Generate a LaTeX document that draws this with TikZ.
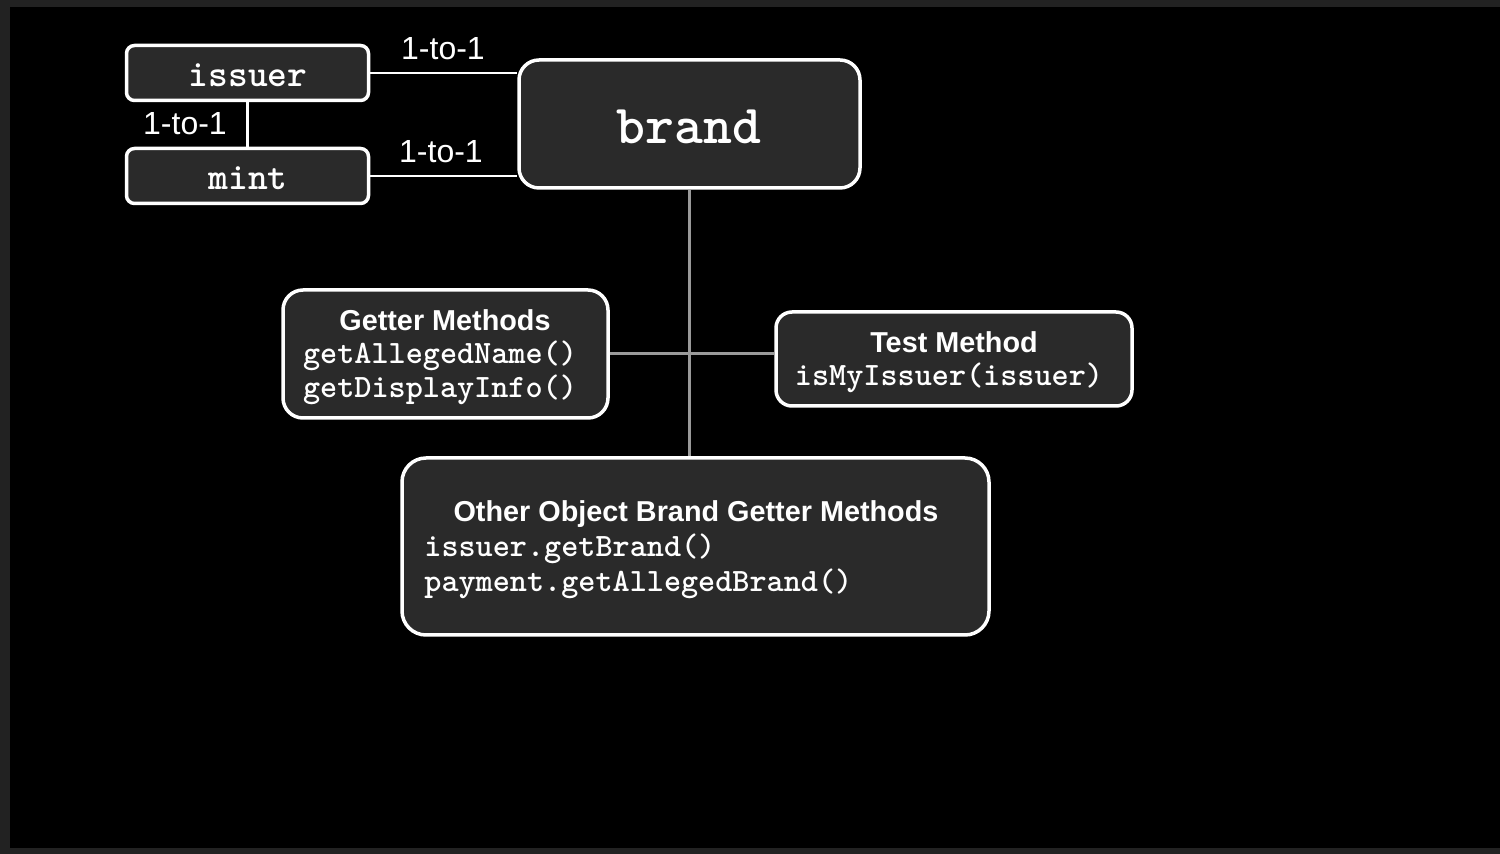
\documentclass[tikz,border=0pt]{standalone}
\usepackage{fontspec}
\setmainfont{Liberation Sans}
\definecolor{frame}{HTML}{222222}
\definecolor{boxfill}{HTML}{2A2A2A}
\definecolor{link}{HTML}{9A9A9A}
\begin{document}
\begin{tikzpicture}[x=0.5pt,y=-0.5pt,
  box/.style={draw=white, line width=1.75pt, fill=boxfill, inner sep=0pt},
  lbl/.style={text=white, inner sep=0pt, font=\fontsize{16}{19}\selectfont},
  head/.style={text=white, inner sep=0pt, font=\fontsize{14.4}{17}\selectfont\bfseries},
  code/.style={text=white, inner sep=0pt, font=\fontsize{16.3}{19}\selectfont\ttfamily\bfseries},
  wline/.style={draw=white, line width=1.2pt},
  gline/.style={draw=link, line width=1.5pt}]
\useasboundingbox (0,0) rectangle (1500,854);
\fill[frame] (0,0) rectangle (1500,854);
\fill[black] (10,7) rectangle (1500,848);

% boxes
\node[box, rounded corners=4pt, minimum width=121pt, minimum height=27.5pt] (issuer) at (247.5,73) {};
\node[box, rounded corners=4pt, minimum width=121pt, minimum height=27.5pt] (mint) at (247.5,176) {};
\node[box, rounded corners=10pt, minimum width=170.5pt, minimum height=64pt] (brand) at (689.5,124) {};
\node[box, rounded corners=10pt, minimum width=162.5pt, minimum height=64pt] (getter) at (445.5,354) {};
\node[box, rounded corners=8pt, minimum width=178pt, minimum height=47pt] (test) at (954,359) {};
\node[box, rounded corners=12pt, minimum width=293.5pt, minimum height=88.5pt] (other) at (695.5,546.5) {};

% connectors
\draw[wline] (issuer.east) -- (issuer.east -| brand.west);
\draw[wline] (mint.east) -- (mint.east -| brand.west);
\draw[wline] (issuer.south) -- (mint.north);
\draw[gline] (brand.south) -- (brand.south |- other.north);
\draw[gline] (getter.east) -- (getter.east -| test.west);

% labels
\node[lbl] (l1) at (443,49) {1-to-1};
\node[lbl] (l2) at (441,152) {1-to-1};
\node[lbl] (l3) at (185,124) {1-to-1};

% texts
\node[text=white, inner sep=0pt, font=\fontsize{18.8}{22}\selectfont\ttfamily\bfseries] (tissuer) at (248,75) {issuer};
\node[text=white, inner sep=0pt, font=\fontsize{18.8}{22}\selectfont\ttfamily\bfseries] (tmint) at (248,178) {mint};
\node[text=white, inner sep=0pt, font=\fontsize{27.5}{32}\selectfont\ttfamily\bfseries] (tbrand) at (689,127) {brand};

\node[head] (gh) at (445,320) {Getter Methods};
\node[code] (g1) at (440,356) {getAllegedName()};
\node[code] (g2) at (440,390) {getDisplayInfo()};

\node[head] (th) at (954,342) {Test Method};
\node[code] (t1) at (949,378) {isMyIssuer(issuer)};

\node[head] (oh) at (696,514) {Other Object Brand Getter Methods};
\node[code, anchor=west] (o1) at (424,549) {issuer.getBrand()};
\node[code, anchor=west] (o2) at (424,584) {payment.getAllegedBrand()};
\end{tikzpicture}
\end{document}
